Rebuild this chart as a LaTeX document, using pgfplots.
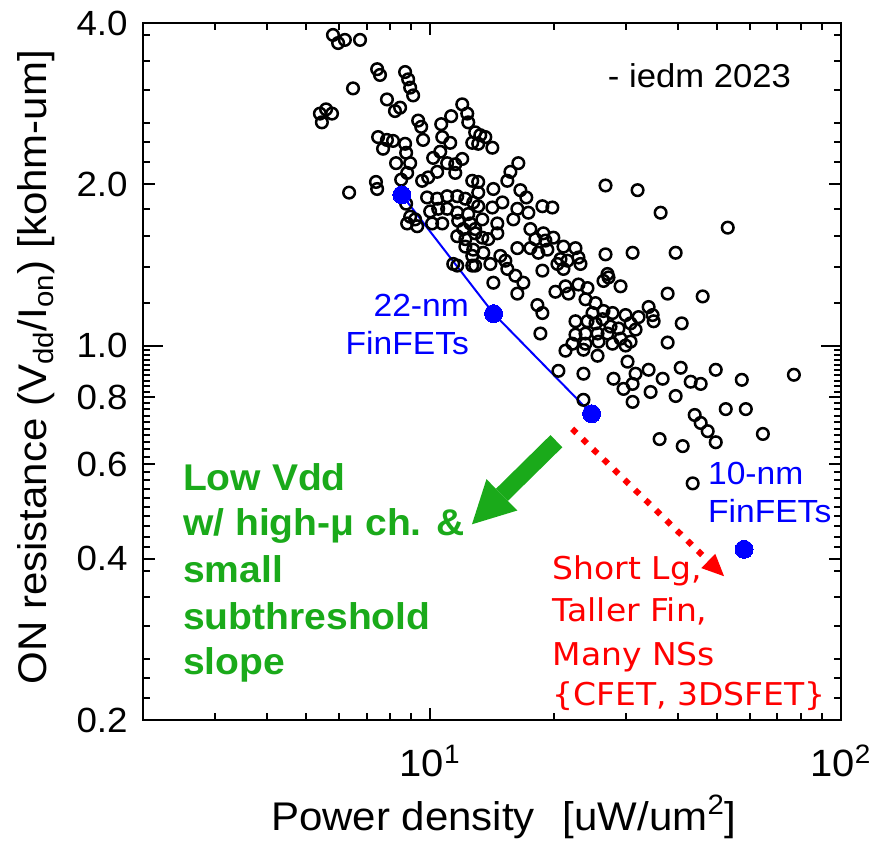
\documentclass[border=0pt]{standalone}
\usepackage{fontspec}
\setmainfont{Liberation Sans}[FakeStretch=1.05]
\newfontfamily\notefont{DejaVu Sans}[FakeStretch=1.05]
\usepackage{pgfplots}
\usepackage{pgfplotstable}
\pgfplotsset{compat=1.18}
\usetikzlibrary{arrows.meta}

\definecolor{fetblue}{RGB}{0,0,255}
\definecolor{leafgreen}{RGB}{26,170,26}
\definecolor{hotred}{RGB}{255,0,0}

% power density [uW/um^2] vs. ON resistance [kohm-um], IEDM 2023 devices
\pgfplotstableread{
x y
5.80 3.80
5.97 3.67
6.20 3.72
6.75 3.72
7.43 3.28
7.55 3.20
8.69 3.24
8.84 3.14
8.94 3.03
9.09 2.93
6.49 3.02
7.85 2.88
8.45 2.78
8.21 2.74
5.39 2.71
5.58 2.76
5.77 2.71
5.45 2.61
9.35 2.63
9.51 2.56
9.61 2.42
7.47 2.45
7.85 2.42
8.12 2.41
8.69 2.38
7.68 2.33
8.74 2.29
8.94 2.19
8.26 2.19
8.79 2.10
8.50 2.04
7.38 2.02
7.43 1.96
6.35 1.93
8.74 1.84
8.94 1.74
8.79 1.69
9.30 1.67
9.19 1.72
9.89 2.06
9.56 2.03
9.83 1.89
11.97 2.82
12.31 2.71
12.38 2.61
12.87 2.50
12.66 2.39
11.25 2.68
10.64 2.59
10.70 2.45
11.19 2.39
10.58 2.30
10.17 2.24
11.00 2.19
11.51 2.18
11.97 2.23
10.40 2.11
11.51 2.10
12.66 2.03
10.40 1.88
11.00 1.90
11.64 1.90
12.18 1.88
12.73 1.85
10.46 1.80
10.00 1.78
11.00 1.80
11.64 1.77
12.38 1.76
10.11 1.69
10.70 1.69
11.70 1.71
12.52 1.69
12.04 1.65
12.87 1.62
11.64 1.60
12.18 1.53
12.73 1.51
12.18 1.58
12.66 1.47
11.38 1.42
11.64 1.41
12.66 1.41
13.24 2.47
13.62 2.45
14.17 2.34
13.09 2.38
16.39 2.19
15.68 2.11
15.41 2.03
13.09 2.02
14.25 1.96
16.58 1.95
13.09 1.93
17.14 1.89
13.09 1.82
14.17 1.81
14.99 1.85
16.30 1.80
17.34 1.77
18.76 1.82
19.84 1.81
13.39 1.72
14.57 1.69
15.94 1.72
12.87 1.65
13.39 1.59
14.57 1.62
13.85 1.58
17.54 1.65
18.86 1.62
19.95 1.59
18.04 1.58
19.08 1.57
21.11 1.53
16.30 1.52
17.54 1.52
18.34 1.49
19.29 1.51
13.47 1.49
14.01 1.42
14.82 1.47
15.24 1.44
15.41 1.39
16.12 1.35
16.86 1.31
14.25 1.31
16.30 1.25
12.87 1.41
18.76 1.38
22.58 1.52
22.96 1.46
23.22 1.42
20.76 1.45
20.41 1.42
21.11 1.39
21.59 1.44
26.72 1.48
31.10 1.49
27.02 1.36
26.42 1.32
27.17 1.34
29.07 1.29
20.18 1.26
21.35 1.29
21.71 1.25
22.96 1.30
24.15 1.28
18.24 1.19
18.76 1.15
23.88 1.22
25.26 1.20
24.84 1.15
26.42 1.16
27.79 1.15
29.90 1.14
32.16 1.13
34.02 1.18
34.79 1.14
22.58 1.11
24.15 1.11
25.26 1.10
26.28 1.12
27.48 1.085
28.74 1.076
30.75 1.10
31.62 1.071
22.58 1.048
23.88 1.053
25.55 1.053
27.02 1.053
29.07 1.030
30.75 1.017
22.20 1.008
23.88 1.008
25.69 1.017
27.79 1.008
29.90 1.000
18.55 1.053
21.35 0.978
26.72 1.99
31.98 1.95
36.39 1.77
53.01 1.66
39.59 1.49
37.85 1.25
46.06 1.235
34.99 1.11
40.95 1.10
37.85 1.013
23.61 0.982
25.55 0.957
30.23 0.933
31.62 0.886
34.02 0.901
27.95 0.867
29.56 0.830
31.10 0.848
34.40 0.819
31.10 0.785
20.52 0.897
23.61 0.886
23.61 0.792
36.81 0.867
40.72 0.909
43.07 0.856
45.55 0.848
49.56 0.901
57.35 0.863
76.80 0.882
39.59 0.805
52.42 0.761
58.66 0.761
44.05 0.742
45.55 0.717
47.37 0.692
49.56 0.660
36.18 0.669
41.18 0.649
64.55 0.684
43.55 0.553
}\devices

\begin{document}
\begin{tikzpicture}
\begin{axis}[
  scale only axis,
  width=349pt, height=348.5pt,
  xmode=log, ymode=log,
  xmin=2, xmax=100, ymin=0.2, ymax=4,
  clip=false,
  axis line style={line width=1.3pt},
  tick align=inside,
  every tick/.style={black, line width=1pt},
  major tick length=6pt, minor tick length=3.5pt,
  xtick={10,100},
  xticklabels={10\textsuperscript{1},10\textsuperscript{2}},
  minor xtick={3,4,5,6,7,8,9,20,30,40,50,60,70,80,90},
  ytick={0.2,0.4,0.6,0.8,2,4},
  yticklabels={0.2,0.4,0.6,0.8,2.0,4.0},
  extra y ticks={1},
  extra y tick labels={1.0},
  extra y tick style={major tick length=10pt},
  minor ytick={0.22,0.24,0.26,0.30,0.34,0.38,
    0.42,0.44,0.46,0.48,0.50,0.52,0.54,0.56,0.58,
    0.62,0.64,0.66,0.68,0.70,0.72,0.74,0.76,0.78,
    0.82,0.84,0.86,0.88,0.90,0.92,0.94,0.96,0.98,
    1.2,1.4,1.6,1.8,2.2,2.4,2.6,3.0,3.4,3.8},
  xticklabel style={font=\fontsize{19}{22}\selectfont, anchor=north, inner sep=0pt, yshift=-12.5pt},
  yticklabel style={font=\fontsize{17.5}{21}\selectfont, anchor=east, inner sep=0pt, xshift=-7.5pt},
  xlabel={Power density\hspace{0.7em}[uW/um\textsuperscript{2}]},
  ylabel={ON resistance (V\textsubscript{dd}/I\textsubscript{on}) [kohm-um]},
  every axis x label/.style={at={([yshift=-55pt]rel axis cs:0.517,0)}, anchor=base,
    font=\fontsize{20}{24}\selectfont},
  every axis y label/.style={at={([xshift=-48pt]rel axis cs:0,0.506)}, anchor=base, rotate=90,
    font=\fontsize{20}{24}\selectfont},
]
% all devices
\addplot[only marks, mark=o, mark size=2.9pt, mark options={black, line width=1.25pt}]
  table[x=x, y=y] {\devices};

% 22-nm FinFET trend
\addplot[fetblue, line width=1pt, mark=*, mark size=4.5pt,
  mark options={fill=fetblue, draw=fetblue, line width=0pt}]
  coordinates {(8.53,1.911) (14.27,1.147) (24.71,0.746)};
% 10-nm FinFET
\addplot[only marks, mark=*, mark size=4.5pt,
  mark options={fill=fetblue, draw=fetblue, line width=0pt}]
  coordinates {(58.09,0.4164)};

% scaling directions
\draw[leafgreen, line width=8.5pt, -{Triangle[length=21pt, width=22pt, line width=0pt]}]
  (axis cs:20.29,0.663) -- (axis cs:12.64,0.4638);
\draw[hotred, line width=3pt, dash pattern=on 3pt off 4.3pt,
  -{Triangle[length=11pt, width=10pt, line width=0pt]}]
  (axis cs:22.16,0.699) -- (axis cs:51.93,0.371);

% annotations
\node[anchor=base west, inner sep=0pt, font=\fontsize{16.5}{19}\selectfont]
  at (axis cs:27.02,3.038) {- iedm 2023};

\node[anchor=base east, inner sep=0pt, text=fetblue, font=\fontsize{16}{19}\selectfont]
  at (axis cs:12.45,1.133) {22-nm};
\node[anchor=base east, inner sep=0pt, text=fetblue, font=\fontsize{16}{19}\selectfont]
  at (axis cs:12.45,0.961) {FinFETs};
\node[anchor=base west, inner sep=0pt, text=fetblue, font=\fontsize{16}{19}\selectfont]
  at (axis cs:47.37,0.5513) {10-nm};
\node[anchor=base west, inner sep=0pt, text=fetblue, font=\fontsize{16}{19}\selectfont]
  at (axis cs:47.37,0.4672) {FinFETs};

\node[anchor=base west, inner sep=0pt, text=leafgreen, font=\bfseries\fontsize{18.6}{22}\selectfont]
  at (axis cs:2.498,0.5358) {Low Vdd};
\node[anchor=base west, inner sep=0pt, text=leafgreen, font=\bfseries\fontsize{18.6}{22}\selectfont]
  at (axis cs:2.498,0.4418) {w/ high-μ ch. \&};
\node[anchor=base west, inner sep=0pt, text=leafgreen, font=\bfseries\fontsize{18.6}{22}\selectfont]
  at (axis cs:2.498,0.3606) {small};
\node[anchor=base west, inner sep=0pt, text=leafgreen, font=\bfseries\fontsize{18.6}{22}\selectfont]
  at (axis cs:2.498,0.2947) {subthreshold};
\node[anchor=base west, inner sep=0pt, text=leafgreen, font=\bfseries\fontsize{18.6}{22}\selectfont]
  at (axis cs:2.498,0.2427) {slope};

\node[anchor=base west, inner sep=0pt, text=hotred, font=\notefont\fontsize{15.7}{19}\selectfont]
  at (axis cs:19.84,0.3658) {Short Lg,};
\node[anchor=base west, inner sep=0pt, text=hotred, font=\notefont\fontsize{15.7}{19}\selectfont]
  at (axis cs:19.84,0.3056) {Taller Fin,};
\node[anchor=base west, inner sep=0pt, text=hotred, font=\notefont\fontsize{15.7}{19}\selectfont]
  at (axis cs:19.84,0.2533) {Many NSs};
\node[anchor=base west, inner sep=0pt, text=hotred, font=\notefont\fontsize{15.7}{19}\selectfont]
  at (axis cs:19.84,0.2132) {\{CFET, 3DSFET\}};

\coordinate (boxSW) at (rel axis cs:0,0);
\coordinate (boxNE) at (rel axis cs:1,1);
\end{axis}
\pgfresetboundingbox
\path[use as bounding box] ([shift={(-71.5pt,-60.5pt)}]boxSW) rectangle ([shift={(16.5pt,11.5pt)}]boxNE);
\end{tikzpicture}
\end{document}
